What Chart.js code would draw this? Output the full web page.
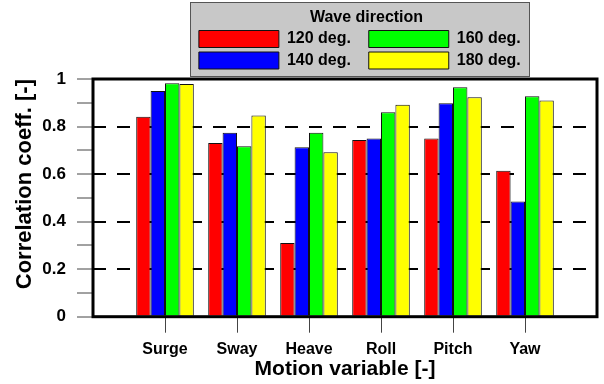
<!DOCTYPE html>
<html>
<head>
<meta charset="utf-8">
<script src="https://cdn.jsdelivr.net/npm/chart.js@4/dist/chart.umd.min.js"></script>
<style>
  html, body { margin: 0; padding: 0; background: #ffffff; }
  #wrap { width: 604px; height: 384px; }
</style>
</head>
<body>
<div id="wrap"><canvas id="chart" width="604" height="384"></canvas></div>
<script>
// Motion variables on the x axis
const motions = ['Surge', 'Sway', 'Heave', 'Roll', 'Pitch', 'Yaw'];
// Wave directions (one series each)
const directions = ['120 deg.', '140 deg.', '160 deg.', '180 deg.'];
// Correlation coefficient per motion variable
const corr120 = [0.841, 0.731, 0.310, 0.743, 0.750, 0.614];
const corr140 = [0.950, 0.774, 0.713, 0.750, 0.898, 0.485];
const corr160 = [0.982, 0.717, 0.774, 0.860, 0.965, 0.927];
const corr180 = [0.979, 0.846, 0.692, 0.892, 0.923, 0.910];
// Labelled y ticks (minor ticks sit halfway between them)
const yTickLabels = ['0', '0.2', '0.4', '0.6', '0.8', '1'];

const seriesValues = [corr120, corr140, corr160, corr180];
const barColors = ['#ff0000', '#0000ff', '#00ff00', '#ffff00'];
// legend reads column-wise: 120 / 140 in the first column, 160 / 180 in the second
const legendOrder = [0, 2, 1, 3];

// an empty slot on each side of the six motion variables
const xLabels = [''].concat(motions, ['']);

const FONT = "'Liberation Sans', Arial, Helvetica, sans-serif";
Chart.defaults.color = '#000000';
Chart.defaults.font.family = FONT;
Chart.defaults.font.weight = 'bold';

const datasets = directions.map((name, i) => ({
  label: name + '   ',
  data: [null].concat(seriesValues[i], [null]),
  backgroundColor: barColors[i],
  borderColor: '#111111',
  borderWidth: 1,
  categoryPercentage: 0.8,
  barPercentage: 1.0
}));

// grey panel behind the legend, and the legend nudged to the right
const legendPanel = {
  id: 'legendPanel',
  afterLayout(chart) {
    const lg = chart.legend;
    if (!lg) return;
    const dx = 21.5;
    lg.left += dx;
    lg.right += dx;
  },
  beforeDraw(chart) {
    const lg = chart.legend;
    if (!lg || !lg.lineWidths) return;
    const pad = lg.options.labels.padding;
    const x0 = (lg.left + pad + lg.right - lg.lineWidths[0]) / 2;
    const ctx = chart.ctx;
    ctx.save();
    const x = Math.round(x0 - 9) + 0.5;
    const y = lg.top + 2.5;
    const w = 339;
    const h = lg.bottom - lg.top - 5;
    ctx.fillStyle = '#c8c8c8';
    ctx.fillRect(x, y, w, h);
    ctx.strokeStyle = '#555555';
    ctx.lineWidth = 1;
    ctx.strokeRect(x, y, w, h);
    ctx.restore();
  }
};

// heavy frame round the plotting area
const plotFrame = {
  id: 'plotFrame',
  afterDatasetsDraw(chart) {
    const a = chart.chartArea;
    const ctx = chart.ctx;
    ctx.save();
    ctx.strokeStyle = '#000000';
    ctx.lineWidth = 3;
    ctx.strokeRect(a.left, a.top, a.right - a.left, a.bottom - a.top);
    ctx.restore();
  }
};

new Chart(document.getElementById('chart'), {
  type: 'bar',
  data: { labels: xLabels, datasets: datasets },
  plugins: [legendPanel, plotFrame],
  options: {
    responsive: false,
    devicePixelRatio: 1,
    animation: false,
    layout: { padding: { left: 0, right: 3, top: 0, bottom: 0 } },
    plugins: {
      tooltip: { enabled: false },
      legend: {
        display: true,
        position: 'top',
        fullSize: false,
        title: {
          display: true,
          text: 'Wave direction',
          font: { size: 16, weight: 'bold', lineHeight: 1 },
          padding: { top: 10, bottom: 0 }
        },
        labels: {
          boxWidth: 80,
          boxHeight: 17,
          padding: 4.5,
          color: '#000000',
          font: { size: 16, weight: 'bold' },
          sort: (a, b) => legendOrder[a.datasetIndex] - legendOrder[b.datasetIndex]
        }
      }
    },
    scales: {
      x: {
        type: 'category',
        offset: false,
        afterFit: (s) => { s.height = 67.3; },
        grid: {
          offset: false,
          drawOnChartArea: false,
          drawTicks: true,
          tickLength: 16,
          tickWidth: 1,
          tickColor: (ctx) => (ctx.index === 0 || ctx.index === xLabels.length - 1) ? 'rgba(0,0,0,0)' : '#444444'
        },
        border: { display: false },
        ticks: {
          autoSkip: false,
          maxRotation: 0,
          padding: 7,
          font: { size: 16, weight: 'bold' }
        },
        title: {
          display: true,
          text: 'Motion variable [-]',
          font: { size: 21, weight: 'bold', lineHeight: 1.2 },
          padding: { top: 0, bottom: 2 }
        }
      },
      y: {
        min: 0,
        max: 1,
        afterFit: (s) => { s.width = 93; },
        afterBuildTicks: (s) => {
          s.ticks = [];
          for (let i = 0; i <= 10; i++) s.ticks.push({ value: i / 10 });
        },
        ticks: {
          padding: 11,
          font: { size: 17, weight: 'bold' },
          callback: (v, i) => (i % 2 === 0 ? yTickLabels[i / 2] : '')
        },
        grid: {
          drawOnChartArea: true,
          drawTicks: true,
          tickLength: 16,
          tickWidth: 1,
          tickColor: '#444444',
          tickBorderDash: [],
          lineWidth: 2,
          color: (ctx) => (ctx.index % 2 === 0 && ctx.index > 0 && ctx.index < 10) ? '#000000' : 'rgba(0,0,0,0)'
        },
        border: { display: false, dash: [13, 11] },
        title: {
          display: true,
          text: 'Correlation coeff. [-]',
          align: 'end',
          font: { size: 22, weight: 'bold', lineHeight: 1.2 },
          padding: { top: 12, bottom: 0 }
        }
      }
    }
  }
});
</script>
</body>
</html>
